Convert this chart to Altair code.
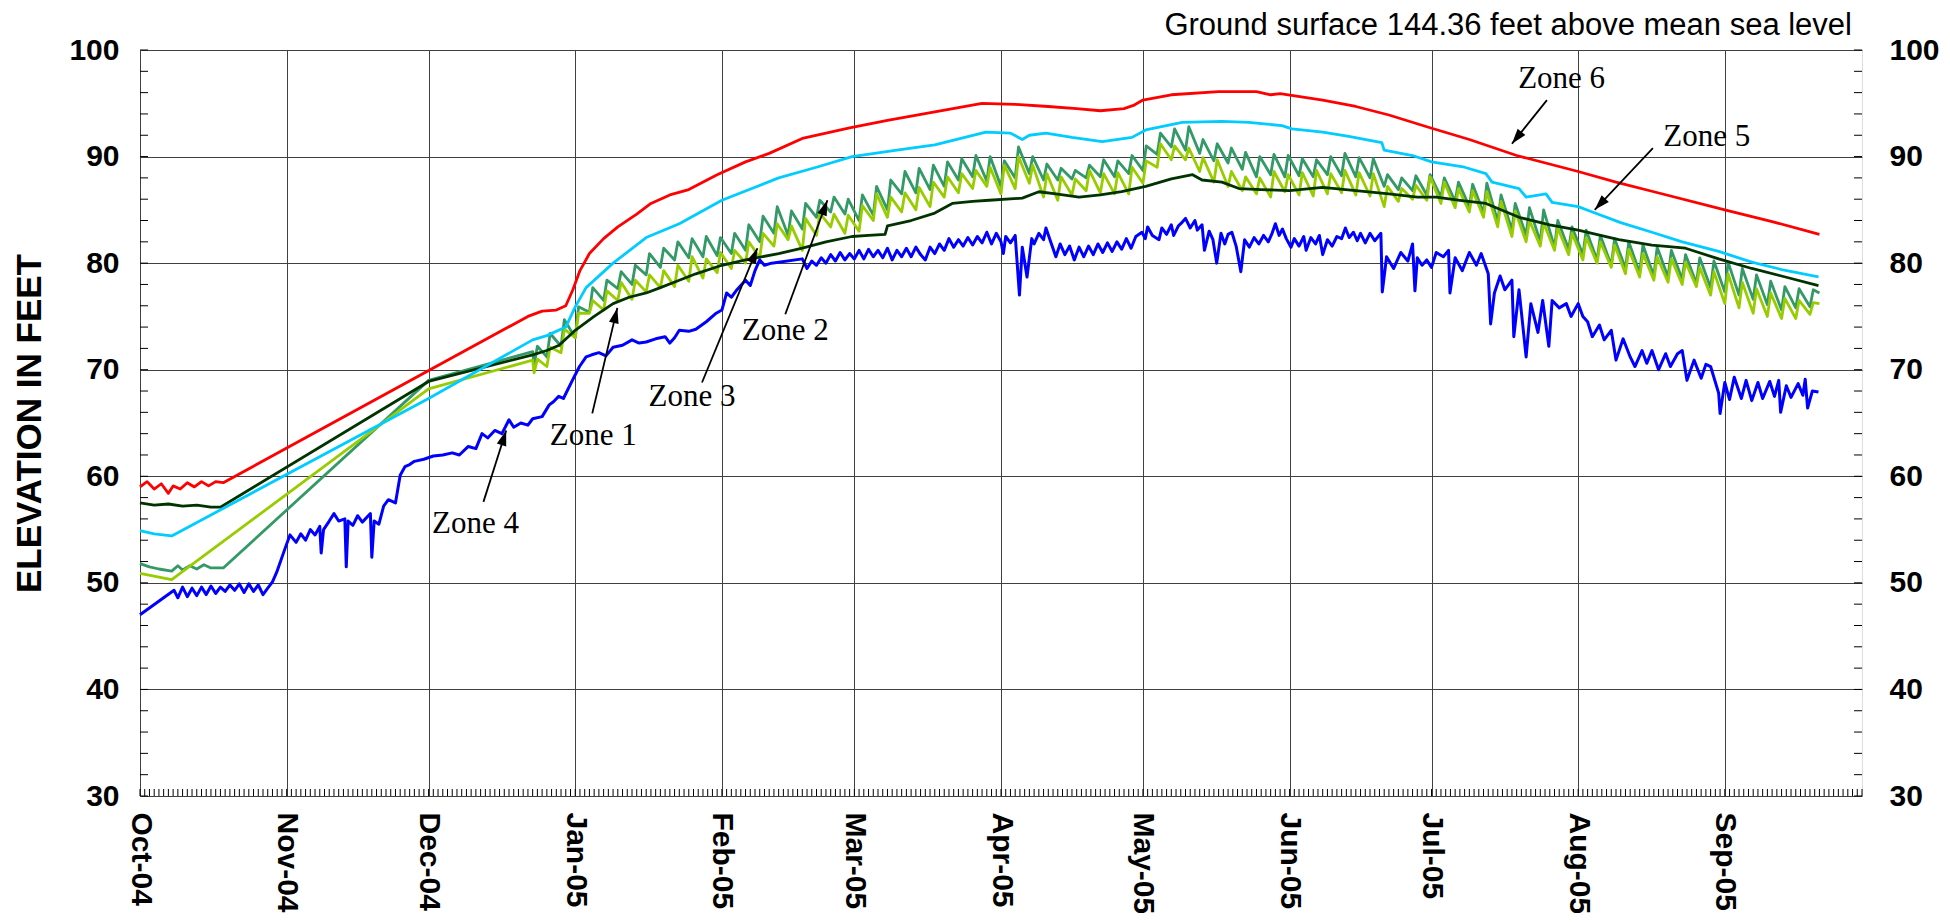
import altair as alt
import numpy as np
import pandas as pd

# ---------------- data (day offsets from 2004-10-01, elevation in feet) ----------------
START = "2004-10-01"
X_DOMAIN = ["2004-10-01", "2005-09-30"]
MONTH_STARTS = [(2004, 10), (2004, 11), (2004, 12), (2005, 1), (2005, 2), (2005, 3),
                (2005, 4), (2005, 5), (2005, 6), (2005, 7), (2005, 8), (2005, 9)]
Y_DOMAIN = [30, 100]
Y_LABELS = [30, 40, 50, 60, 70, 80, 90, 100]
Y_MINOR = [30, 32, 34, 36, 38, 40, 42, 44, 46, 48, 50, 52, 54, 56, 58, 60, 62, 64, 66, 68, 70,
           72, 74, 76, 78, 80, 82, 84, 86, 88, 90, 92, 94, 96, 98, 100]
TITLE = "Ground surface 144.36 feet above mean sea level"
Y_TITLE = "ELEVATION IN FEET"

ZONE6 = [(0, 59.0), (1.5, 59.5), (3, 58.8), (4.5, 59.3), (6, 58.4), (7, 59.1), (8.5, 58.8), (10, 59.4),
         (11.5, 59.0), (13, 59.5), (14.5, 59.1), (16, 59.5), (17.6, 59.4), (82, 75.0), (85, 75.5),
         (88, 75.6), (90, 76.0), (91.5, 77.5), (93, 79.3), (95, 80.9), (98, 82.3), (101, 83.4),
         (105, 84.6), (108, 85.6), (112, 86.4), (116, 86.9), (122, 88.3), (128, 89.5), (133, 90.3),
         (140, 91.7), (150, 92.7), (158, 93.4), (168, 94.2), (178, 95.0), (185, 94.9), (192, 94.7),
         (198, 94.5), (203, 94.3), (208, 94.5), (210, 94.8), (212, 95.3), (218, 95.8), (228, 96.1),
         (236, 96.1), (239, 95.8), (241, 95.9), (250, 95.3), (257, 94.7), (264, 93.9), (272, 92.8),
         (281, 91.6), (291, 90.1), (304, 88.6), (312, 87.6), (320, 86.7), (335, 85.0), (345, 83.9),
         (355, 82.7)]

ZONE5 = [(0, 54.9), (3, 54.6), (6.7, 54.4), (61, 67.3), (83, 72.8), (86, 73.2), (90, 74.0), (92, 75.9),
         (94.3, 77.7), (100, 80.0), (107, 82.4), (114, 83.7), (123, 85.9), (135, 88.0), (143, 89.0),
         (150.5, 90.0), (160, 90.6), (168, 91.1), (178.8, 92.3), (184, 92.2), (186.5, 91.6), (188, 92.0),
         (191.5, 92.2), (197, 91.8), (203.4, 91.4), (209.7, 91.8), (212.6, 92.5), (220.3, 93.2),
         (228.7, 93.3), (234.4, 93.2), (241.4, 92.9), (243.5, 92.6), (250, 92.3), (255.5, 91.9),
         (262.5, 91.3), (263, 90.6), (269, 90.1), (273, 89.5), (280, 89.0), (284.5, 88.4), (285.8, 87.6),
         (291.5, 87.0), (293, 86.2), (297.2, 86.5), (298.5, 85.7), (304, 85.3), (307, 84.8), (313, 83.8),
         (319.6, 82.9), (326, 82.0), (333.7, 81.1), (340.7, 80.1), (347, 79.4), (354.8, 78.7)]

ZONE1 = [(0, 57.5), (3, 57.3), (6, 57.4), (9, 57.2), (12, 57.3), (15, 57.1), (17, 57.1), (61, 68.9),
         (83, 71.4), (86, 71.8), (88.6, 72.3), (92, 73.7), (96, 75.0), (100, 76.2), (103.4, 76.8),
         (107, 77.2), (110, 77.7), (114, 78.4), (117.5, 79.0), (123, 79.8), (128, 80.3), (135, 80.9),
         (140, 81.4), (145, 82.0), (150.5, 82.5), (154, 82.6), (157.5, 82.7), (158, 83.5), (163, 84.0),
         (168, 84.7), (171.7, 85.6), (176, 85.8), (179.5, 85.9), (186.5, 86.1), (190, 86.7),
         (193.6, 86.5), (198.5, 86.2), (203, 86.4), (207.5, 86.7), (212.6, 87.2), (218, 87.9),
         (222.5, 88.3), (224.5, 87.8), (228.7, 87.6), (232.3, 87.0), (237, 86.9), (243, 86.8),
         (250, 87.1), (257, 86.8), (264, 86.5), (270, 86.2), (274, 86.2), (279, 85.9), (284.5, 85.6),
         (291.5, 84.3), (298, 83.6), (304, 83.1), (312.6, 82.2), (319.6, 81.7), (326.7, 81.4),
         (333.7, 80.4), (340.7, 79.5), (347.8, 78.7), (354.8, 77.9)]

ZONE2 = [(0, 51.8), (2, 51.5), (4, 51.3), (6.7, 51.1), (8, 51.6), (9, 51.2), (10.5, 51.6), (12, 51.3),
         (13.5, 51.7), (15, 51.4), (17.6, 51.4), (61, 69.0), (83, 71.7),
         (83.3, 70.4), (84, 72.2), (86, 71.2), (86.7, 73.4), (89, 72.2), (89.7, 74.7), (92, 73.0),
         (92.7, 75.9), (95, 75.4), (95.7, 77.7), (98, 76.5), (98.7, 78.4), (101, 77.6), (101.7, 79.2),
         (104, 78.0), (104.7, 79.8), (107, 78.9), (107.7, 80.9), (110, 79.6), (110.7, 81.4), (113, 80.3),
         (113.7, 82.0), (116, 80.5), (116.7, 82.3), (119, 80.6), (119.7, 82.5), (122, 80.7), (122.7, 82.4),
         (125, 80.9), (125.7, 82.8), (128, 81.2), (128.7, 83.6), (131, 82.0), (131.7, 84.4), (134, 82.8),
         (134.7, 85.3), (137, 82.6), (137.7, 84.9), (140, 83.2), (140.7, 85.6), (143, 84.3), (143.7, 85.9),
         (146, 84.8), (146.7, 86.2), (149, 84.6), (149.7, 86.0), (152, 84.0), (152.7, 86.4), (155, 84.5),
         (155.7, 87.2), (158, 85.0), (158.7, 87.8), (161, 86.5), (161.7, 88.6), (164, 86.6), (164.7, 88.9),
         (167, 86.9), (167.7, 89.2), (170, 87.2), (170.7, 89.5), (173, 87.8), (173.7, 89.8), (176, 88.1),
         (176.7, 90.1), (179, 87.7), (179.7, 90.0), (182, 87.2), (182.7, 89.6), (185, 88.0), (185.7, 90.9),
         (188, 88.4), (188.7, 90.0), (191, 87.8), (191.7, 89.3), (194, 87.8), (194.7, 88.9), (197, 87.9),
         (197.7, 88.7), (200, 88.0), (200.7, 89.2), (203, 88.1), (203.7, 89.7), (206, 88.1), (206.7, 89.6),
         (209, 88.4), (209.7, 90.1), (212, 88.7), (212.7, 91.0), (215, 90.2), (215.7, 92.2), (218, 90.9),
         (218.7, 92.6), (221, 90.6), (221.7, 92.8), (224, 90.3), (224.7, 91.6), (227, 89.6), (227.7, 91.2),
         (230, 89.4), (230.7, 90.8), (233, 88.8), (233.7, 90.4), (236, 88.1), (236.7, 90.0), (239, 88.3),
         (239.7, 90.2), (242, 88.1), (242.7, 90.1), (245, 88.2), (245.7, 89.8), (248, 88.1), (248.7, 89.7),
         (251, 88.3), (251.7, 90.0), (254, 88.2), (254.7, 90.3), (257, 88.1), (257.7, 89.9), (260, 88.0),
         (260.7, 89.8), (263, 87.2), (263.7, 88.3), (266, 86.9), (266.7, 88.0), (269, 86.8), (269.7, 88.2),
         (272, 86.4), (272.7, 88.3), (275, 86.2), (275.7, 88.0), (278, 85.8), (278.7, 87.6), (281, 85.3),
         (281.7, 87.4), (284, 84.7), (284.7, 87.5), (287, 83.9), (287.7, 86.4), (290, 83.1), (290.7, 85.6),
         (293, 82.6), (293.7, 85.2), (296, 82.0), (296.7, 85.0), (299, 81.5), (299.7, 84.0), (302, 81.3),
         (302.7, 83.4), (305, 80.8), (305.7, 83.1), (308, 80.3), (308.7, 82.6), (311, 79.8), (311.7, 82.3),
         (314, 79.5), (314.7, 82.0), (317, 79.1), (317.7, 81.7), (320, 78.8), (320.7, 81.5), (323, 78.7),
         (323.7, 81.2), (326, 78.5), (326.7, 80.8), (329, 78.1), (329.7, 80.5), (332, 77.7), (332.7, 80.2),
         (335, 77.3), (335.7, 80.1), (338, 77.0), (338.7, 79.5), (341, 76.6), (341.7, 78.9), (344, 76.1),
         (344.7, 78.3), (347, 75.6), (347.7, 77.8), (350, 75.8), (350.7, 77.6), (353, 75.9), (353.7, 77.5),
         (355, 77.2)]

ZONE3 = [(0, 50.9), (6.7, 50.3), (61, 68.2), (83, 70.9),
         (83.3, 69.7), (84, 71.0), (86, 70.3), (86.7, 72.1), (89, 71.6), (89.7, 73.8), (92, 73.0),
         (92.7, 75.3), (95, 75.3), (95.7, 76.5), (98, 75.6), (98.7, 77.4), (101, 76.5), (101.7, 78.2),
         (104, 76.6), (104.7, 78.4), (107, 77.3), (107.7, 78.9), (110, 77.7), (110.7, 79.3), (113, 77.8),
         (113.7, 79.8), (116, 78.3), (116.7, 80.6), (119, 78.6), (119.7, 80.4), (122, 79.1), (122.7, 81.0),
         (125, 79.5), (125.7, 81.2), (128, 80.0), (128.7, 82.0), (131, 80.5), (131.7, 82.8), (134, 81.6),
         (134.7, 83.7), (137, 82.2), (137.7, 83.5), (140, 81.2), (140.7, 84.2), (143, 82.6), (143.7, 84.7),
         (146, 83.4), (146.7, 84.6), (149, 82.8), (149.7, 84.5), (152, 83.0), (152.7, 85.4), (155, 84.0),
         (155.7, 86.5), (158, 84.3), (158.7, 86.2), (161, 84.8), (161.7, 86.6), (164, 85.0), (164.7, 87.1),
         (167, 85.3), (167.7, 87.6), (170, 86.2), (170.7, 88.1), (173, 86.6), (173.7, 88.4), (176, 87.0),
         (176.7, 88.7), (179, 87.2), (179.7, 89.0), (182, 86.5), (182.7, 89.2), (185, 87.0), (185.7, 90.0),
         (188, 87.5), (188.7, 89.2), (191, 86.2), (191.7, 88.4), (194, 85.9), (194.7, 88.1), (197, 86.4),
         (197.7, 87.9), (200, 86.8), (200.7, 88.7), (203, 86.6), (203.7, 88.4), (206, 86.5), (206.7, 88.5),
         (209, 86.5), (209.7, 89.0), (212, 87.5), (212.7, 89.6), (215, 89.0), (215.7, 91.2), (218, 89.7),
         (218.7, 91.0), (221, 89.7), (221.7, 90.8), (224, 88.6), (224.7, 89.9), (227, 87.6), (227.7, 89.7),
         (230, 87.2), (230.7, 88.6), (233, 86.8), (233.7, 88.1), (236, 86.5), (236.7, 88.0), (239, 86.2),
         (239.7, 88.6), (242, 86.7), (242.7, 88.3), (245, 86.4), (245.7, 88.5), (248, 86.3), (248.7, 88.7),
         (251, 86.5), (251.7, 88.4), (254, 86.6), (254.7, 88.7), (257, 86.4), (257.7, 88.5), (260, 86.3),
         (260.7, 88.4), (263, 85.3), (263.7, 87.2), (266, 85.8), (266.7, 87.0), (269, 86.0), (269.7, 87.3),
         (272, 85.9), (272.7, 88.1), (275, 85.6), (275.7, 87.6), (278, 85.2), (278.7, 87.0), (281, 84.8),
         (281.7, 86.8), (284, 84.3), (284.7, 86.7), (287, 83.4), (287.7, 85.8), (290, 82.5), (290.7, 84.9),
         (293, 82.0), (293.7, 84.0), (296, 81.6), (296.7, 83.8), (299, 81.2), (299.7, 83.3), (302, 80.8),
         (302.7, 82.8), (305, 80.3), (305.7, 82.4), (308, 80.0), (308.7, 82.0), (311, 79.6), (311.7, 81.7),
         (314, 79.0), (314.7, 81.3), (317, 78.7), (317.7, 80.9), (320, 78.4), (320.7, 80.6), (323, 78.2),
         (323.7, 80.4), (326, 78.0), (326.7, 80.1), (329, 77.8), (329.7, 79.6), (332, 77.0), (332.7, 79.2),
         (335, 76.2), (335.7, 79.0), (338, 75.8), (338.7, 78.2), (341, 75.3), (341.7, 77.6), (344, 75.0),
         (344.7, 77.2), (347, 74.8), (347.7, 76.7), (350, 74.8), (350.7, 76.5), (353, 75.2), (353.7, 76.3),
         (355, 76.2)]

ZONE4 = [(0, 47.0), (7.2, 49.3), (8, 48.6), (9, 49.6), (10, 48.7), (11, 49.5), (12, 48.8), (13, 49.6),
         (14, 48.9), (15, 49.7), (16, 49.0), (17, 49.6), (18, 49.2), (19, 49.8), (20, 49.3), (21, 49.9),
         (22, 49.1), (23, 49.9), (24, 49.2), (25, 49.8), (26, 48.9), (27, 49.5), (28, 50.1), (28.9, 51.0),
         (30.8, 53.4), (31.7, 54.5), (33, 53.8), (34, 54.6), (35, 54.0), (36, 55.0), (37, 54.5), (38, 55.3),
         (38.3, 52.8), (38.8, 55.0), (40, 55.8), (41, 56.5), (42, 55.8), (43.3, 56.0), (43.6, 51.5),
         (44, 55.8), (45, 55.4), (46, 56.3), (47, 55.7), (48.7, 56.5), (49, 52.4), (49.5, 55.8),
         (50.5, 55.5), (51.5, 57.2), (52.5, 57.8), (54, 57.5), (55, 60.1), (56, 60.9), (57, 61.1),
         (58, 61.4), (60, 61.6), (62, 61.9), (64, 62.0), (66, 62.2), (67.5, 62.0), (69.4, 62.8),
         (71, 62.6), (72.3, 64.0), (73.5, 63.6), (75, 64.3), (76.5, 64.0), (78, 65.3), (79, 64.6),
         (80.5, 65.0), (82, 64.8), (83, 65.4), (85, 65.6), (86.5, 66.7), (87.4, 67.0), (88.5, 67.5),
         (89.5, 67.3), (91.4, 69.0), (92.9, 70.3), (94.3, 71.2), (95.5, 71.4), (97, 71.6), (98.5, 71.3),
         (100, 72.1), (102, 72.3), (104, 72.8), (105.5, 72.5), (107, 72.6), (109, 72.9), (111, 73.1),
         (112, 72.5), (113, 73.0), (114, 73.7), (116, 73.6), (117.5, 73.8), (119.7, 74.5), (121.8, 75.3),
         (123, 75.6), (124, 77.2), (125, 76.8), (126, 77.4), (128, 78.4), (129, 77.9), (130, 79.3),
         (131, 80.3), (132, 79.8), (133.5, 80.0), (140, 80.4), (141, 79.5), (142, 80.2), (143, 79.8),
         (144, 80.5), (145, 80.0), (146, 80.8), (147, 80.2), (148, 81.0), (149, 80.3), (150, 80.9),
         (151, 80.4), (152, 81.2), (153, 80.4), (154, 81.3), (155, 80.6), (156, 81.2), (157, 80.5),
         (158, 81.4), (159, 80.3), (160, 81.2), (161, 80.6), (162, 81.4), (163, 80.6), (164, 81.5),
         (165, 80.8), (166, 80.3), (167, 81.5), (168, 80.9), (169, 81.8), (170, 81.2), (171, 82.3),
         (172, 81.5), (173, 82.2), (174, 81.6), (175, 82.4), (176, 81.7), (177, 82.5), (178, 81.9),
         (179, 82.9), (180, 81.8), (181, 82.8), (182, 82.0), (182.5, 80.9), (183, 82.5), (184, 81.9),
         (185, 82.6), (185.9, 77.0), (186.5, 81.5), (187.5, 78.7), (188.5, 82.3), (189, 81.8), (190, 82.8),
         (191, 82.2), (191.5, 83.3), (192.5, 82.0), (193.6, 80.6), (194.5, 81.8), (195.5, 80.8),
         (196.5, 81.6), (197.5, 80.3), (198.5, 81.5), (199.5, 80.6), (200.5, 81.6), (201.5, 80.8),
         (202.5, 81.8), (203.5, 81.0), (204.5, 81.9), (205.5, 81.1), (206.5, 82.0), (207.5, 81.3),
         (208.5, 82.3), (209.5, 81.4), (210.5, 82.5), (211.8, 82.9), (212.5, 82.3), (213, 83.4),
         (214, 82.6), (215.4, 82.2), (216, 83.3), (217, 82.7), (218, 83.6), (218.5, 82.6), (219.5, 83.5),
         (220, 83.7), (221, 84.2), (222, 83.3), (223, 84.0), (223.5, 83.1), (224.5, 83.6), (225, 81.2),
         (226, 83.0), (226.8, 82.2), (227.6, 80.0), (228.5, 82.8), (229.3, 81.8), (230, 82.7),
         (230.8, 82.9), (231.7, 81.6), (232.7, 79.2), (233.5, 82.2), (234.5, 81.5), (235.5, 82.4),
         (236.5, 81.8), (237.5, 82.6), (238.5, 82.0), (239.3, 82.8), (240, 83.7), (240.8, 82.6),
         (241.5, 83.2), (242.3, 82.3), (243.3, 81.5), (244, 82.3), (245, 81.6), (246, 82.5), (246.5, 81.2),
         (247.5, 82.4), (248.5, 81.8), (249.3, 82.6), (250, 80.8), (251, 82.2), (252, 81.6), (253, 82.5),
         (254, 82.3), (254.8, 83.3), (255.6, 82.4), (256.5, 82.9), (257.3, 82.1), (258, 82.8), (259, 81.9),
         (260, 82.8), (261, 82.1), (262.3, 82.8), (262.6, 77.3),
         (263.5, 80.6), (265, 79.5), (266.5, 81.0), (268, 80.2), (269, 81.8), (269.5, 77.4), (270, 80.5),
         (271, 79.8), (272, 80.3), (273, 79.6), (274, 81.0), (275.5, 80.6), (276.6, 81.2), (276.9, 77.2),
         (278, 80.5), (279.5, 79.3), (281, 81.0), (282.5, 79.8), (283.5, 80.9), (285, 79.0), (285.5, 74.3),
         (286.3, 77.2), (287.5, 78.8), (288.5, 77.5), (290, 78.4), (290.4, 73.1), (291.5, 77.5),
         (293, 71.2), (294, 76.2), (295.5, 73.5), (296.5, 76.5), (297.8, 72.2), (298.5, 76.5), (300, 75.8),
         (301.5, 76.2), (302.5, 75.0), (304, 76.2), (305, 75.0), (306, 74.5), (307, 73.1), (308.5, 74.2),
         (309.5, 72.8), (311, 73.7), (312, 70.9), (313.5, 72.9), (315, 71.2), (316, 70.3), (317.5, 71.8),
         (318.5, 70.6), (319.6, 71.8), (321, 70.0), (322.5, 71.5), (323.5, 70.3), (325, 71.5), (326, 71.8),
         (327, 69.0), (328.5, 70.9), (330, 69.2), (331, 70.5), (332, 70.3), (333.7, 67.8), (334, 65.9),
         (335, 68.8), (336, 67.2), (337, 69.3), (338.5, 67.3), (339.5, 69.0), (340.7, 67.1), (342, 68.8),
         (343, 67.3), (344.5, 68.9), (345.5, 67.5), (346.4, 69.0), (346.8, 66.0), (348, 68.5), (349, 67.4),
         (350.5, 68.7), (351.5, 67.6), (352, 69.1), (352.5, 66.4), (353.5, 68.0), (354.8, 67.9)]

# annotations: label text position, arrow tail and arrow tip (day offset, elevation)
ANNO_LABELS = ["Zone 6", "Zone 5", "Zone 2", "Zone 3", "Zone 1", "Zone 4"]
ANNO_TEXT_DAY = [300.5, 331.2, 136.4, 116.7, 95.8, 70.9]
ANNO_TEXT_VAL = [97.3, 91.8, 73.6, 67.4, 63.8, 55.5]
ARROW_TAIL_DAY = [297.4, 319.8, 136.4, 118.8, 95.6, 72.6]
ARROW_TAIL_VAL = [95.3, 90.8, 75.2, 68.8, 65.9, 57.6]
ARROW_TIP_DAY = [290.0, 307.5, 145.3, 130.5, 100.9, 77.4]
ARROW_TIP_VAL = [91.2, 85.0, 85.9, 81.4, 75.8, 64.3]

# ---------------- layout ----------------
W, H = 1722, 746
SANS = "Liberation Sans"
SERIF = "Liberation Serif"
GRID = "#404040"
LW = 2.8


def ms(s):
    return int(pd.Timestamp(s, tz="UTC").timestamp() * 1000)


def iso(days):
    t = pd.Timestamp(START) + pd.to_timedelta(np.asarray(days, dtype=float), unit="D")
    return list(t.strftime("%Y-%m-%dT%H:%M:%SZ"))


def frame(pairs):
    return pd.DataFrame({"date": iso([p[0] for p in pairs]), "elev": [p[1] for p in pairs]})


x_scale = alt.Scale(type="utc", domain=[ms(X_DOMAIN[0]), ms(X_DOMAIN[1])], nice=False)
y_scale = alt.Scale(domain=Y_DOMAIN, nice=False, zero=False)

x_axis = alt.Axis(values=[alt.DateTime(year=y, month=m, date=1, utc=True) for y, m in MONTH_STARTS],
                  format="%b-%y",
                  labelAngle=90, labelAlign="left", labelBaseline="middle", labelPadding=16,
                  labelFont=SANS, labelFontSize=30, labelFontWeight="bold", labelColor="black",
                  labelFlush=False, labelOverlap=False, labelBound=False,
                  ticks=False, domain=False, grid=True, gridColor=GRID, gridWidth=1, title=None)
y_axis_left = alt.Axis(orient="left", values=Y_LABELS, ticks=False, domain=False, grid=True,
                       gridColor=GRID, gridWidth=1, labelFont=SANS, labelFontSize=30,
                       labelFontWeight="bold", labelColor="black", labelPadding=21,
                       labelFlush=False, labelOverlap=False,
                       title=Y_TITLE, titleFont=SANS, titleFontSize=35, titleFontWeight="bold",
                       titleColor="black", titleAngle=270, titleX=-111, titleY=H / 2,
                       titleAlign="center", titleBaseline="middle")
y_axis_right = alt.Axis(orient="right", values=Y_LABELS, ticks=False, domain=False, grid=False,
                        labelFont=SANS, labelFontSize=30, labelFontWeight="bold", labelColor="black",
                        labelPadding=27, labelFlush=False, labelOverlap=False, title=None)


def zone_line(pairs, color, width, first=False):
    return alt.Chart(frame(pairs)).mark_line(color=color, strokeWidth=width, strokeJoin="round").encode(
        x=alt.X("date:T", scale=x_scale, axis=x_axis),
        y=alt.Y("elev:Q", scale=y_scale, axis=y_axis_left if first else None),
    )


lines = [
    zone_line(ZONE2, "#339966", LW, first=True),
    zone_line(ZONE3, "#99CC00", LW),
    zone_line(ZONE1, "#003300", LW),
    zone_line(ZONE5, "#00CCFF", LW),
    zone_line(ZONE6, "#FF0000", LW),
    zone_line(ZONE4, "#0000FF", 3.0),
]

# minor ticks (inward)
minor_df = pd.DataFrame({"v": Y_MINOR})
left_ticks = alt.Chart(minor_df).mark_rule(color="black", strokeWidth=1).encode(
    y=alt.Y("v:Q", scale=y_scale, axis=None), x=alt.value(0), x2=alt.value(8))
right_ticks = alt.Chart(minor_df).mark_rule(color="black", strokeWidth=1).encode(
    y=alt.Y("v:Q", scale=y_scale, axis=y_axis_right), x=alt.value(W - 8), x2=alt.value(W))
day_df = pd.DataFrame({"date": iso(list(range(0, 365)))})
day_ticks = alt.Chart(day_df).mark_rule(color="black", strokeWidth=1).encode(
    x=alt.X("date:T", scale=x_scale, axis=x_axis), y=alt.value(H - 7), y2=alt.value(H))

# annotations
px_day = W / ((ms(X_DOMAIN[1]) - ms(X_DOMAIN[0])) / 86400000.0)
px_val = H / (Y_DOMAIN[1] - Y_DOMAIN[0])
dxp = (np.array(ARROW_TIP_DAY) - np.array(ARROW_TAIL_DAY)) * px_day
dyp = (np.array(ARROW_TIP_VAL) - np.array(ARROW_TAIL_VAL)) * px_val
angles = (np.degrees(np.arctan2(dxp, dyp)) % 360).round(1)

anno_df = pd.DataFrame({
    "label": ANNO_LABELS,
    "tx": iso(ANNO_TEXT_DAY), "ty": ANNO_TEXT_VAL,
    "ax": iso(ARROW_TAIL_DAY), "ay": ARROW_TAIL_VAL,
    "bx": iso(ARROW_TIP_DAY), "by": ARROW_TIP_VAL,
    "ang": angles,
})
texts = alt.Chart(anno_df).mark_text(font=SERIF, fontSize=31, color="black", align="center",
                                     baseline="middle").encode(
    x=alt.X("tx:T", scale=x_scale, axis=x_axis), y=alt.Y("ty:Q", scale=y_scale, axis=None), text="label:N")
shafts = alt.Chart(anno_df).mark_rule(color="black", strokeWidth=1.8).encode(
    x=alt.X("ax:T", scale=x_scale, axis=x_axis), x2="bx:T",
    y=alt.Y("ay:Q", scale=y_scale, axis=None), y2="by:Q")
heads = alt.Chart(anno_df).mark_point(shape="M0,0L0.45,1.4L-0.45,1.4Z", filled=True, color="black",
                                      opacity=1, size=480, strokeWidth=0).encode(
    x=alt.X("bx:T", scale=x_scale, axis=x_axis), y=alt.Y("by:Q", scale=y_scale, axis=None),
    angle=alt.Angle("ang:Q", scale=None))

# header text above the plot, right-aligned with the plot frame
header = alt.Chart(pd.DataFrame({"t": [TITLE]})).mark_text(
    font=SANS, fontSize=31, color="black", align="right", baseline="alphabetic").encode(
    x=alt.value(W - 10), y=alt.value(-15), text="t:N")

chart = alt.layer(
    *lines, left_ticks, right_ticks, day_ticks, shafts, heads, texts, header
).resolve_scale(y="shared", x="shared").resolve_axis(y="independent", x="shared").properties(
    width=W, height=H,
    padding={"left": 132, "top": 42, "right": 80, "bottom": 117},
    autosize=alt.AutoSizeParams(type="none"),
).configure_view(stroke="black", strokeWidth=3).configure(background="white")

chart.save("out.html", embed_options={"renderer": "svg", "actions": False})
